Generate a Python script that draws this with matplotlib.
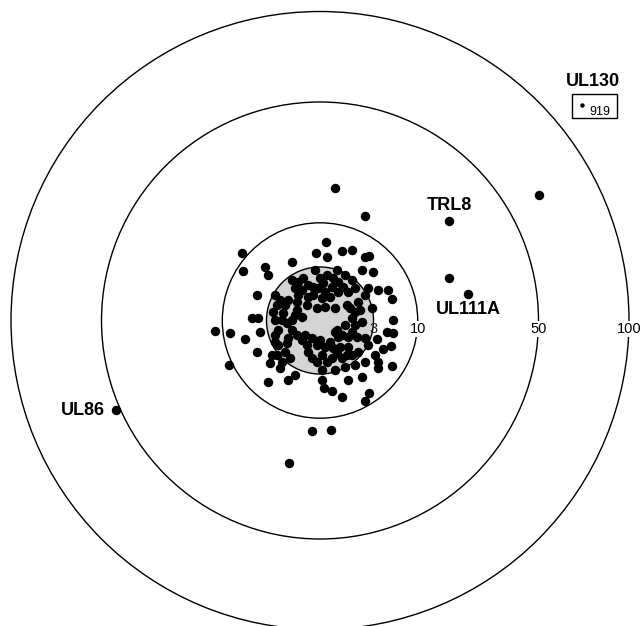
import matplotlib
matplotlib.use("Agg")
import matplotlib.pyplot as plt
from matplotlib.patches import Circle, Rectangle
import numpy as np

plt.rcParams['font.family'] = ['Liberation Sans', 'DejaVu Sans']

# ring values (fold); radius on chart = sqrt(value)
ring_values = [3, 10, 50, 100]
ring_labels = ["3", "10", "50", "100"]

# unlabeled genes: positions in chart units (radius = sqrt(fold))
gene_x = [0.50, 1.47, 7.10, 4.18, -0.27, 0.36, -1.01,
          0.18, -0.13, 0.71, 1.04, 1.59, -2.54, -2.49, 2.20, 2.34, -2.21, -3.39, -2.91, -2.42,
          -2.96, 0.12, 0.39, 0.70, 1.57, 1.47, 2.03, 2.30, 2.33, 2.37, 2.36, 2.18, 1.84,
          -0.92, 0.22, 1.46, -1.78, -1.67, 1.35, 1.73, -2.05, 1.56, 1.89,
          -0.16, 0.54, 0.81, -0.70, -0.38, 0.00, 0.22, 0.38, 0.16, 0.59, 1.02, 1.13,
          -0.81, -0.59, -0.22, 0.05, 0.32, -1.46, -1.29, -1.02, -0.76, -0.43, -0.11, 0.16,
          0.49, 0.86, 1.24, 1.46, 1.67, -1.51, -1.24, -0.81, -1.08, -1.35, -1.46, -0.92,
          -0.76, -0.49, -0.27, 0.49, 0.59, 0.81, 1.02, 1.13, 1.02, 1.19, 1.46,
          -0.43, -0.11, 0.16, 0.43, 0.65, 0.92, -0.38, -0.27, 0.05, 0.38, 0.70, 1.02, 1.24, 1.56,
          -1.35, -1.08, -1.13, -1.24, -1.56, -1.62, -1.29, 0.05, 0.49, 0.81, 1.13, 1.46,
          -2.00, -1.94, -2.05, 1.78, 1.89, 1.89, -0.81, 0.05, 0.92, 1.35, -1.67, -1.02,
          -0.92, -0.54, -0.22, -0.05, 0.59, 0.76, 0.92, 0.43, 0.11, -0.70, -0.38,
          -1.40, -1.13, -1.46, -1.19, -0.76, -0.59, -0.92, 0.97, 1.29, 1.35, 0.92, 1.13,
          -0.59, 0.00, 0.32, 0.54, 0.22, 0.86, -0.11, -1.02, -1.46, -0.97, -1.40, 0.54, 0.70]
gene_y = [4.30, 3.37, 4.06, 1.37, -3.57, -3.54, -4.62,
          2.53, 2.20, 2.24, 2.29, 2.09, 2.20, 1.59, 0.99, 0.68, 0.07, -0.34, -0.39, -0.61,
          -1.45, -2.18, -2.28, -2.49, -2.34, -2.59, -0.92, -0.84, -1.46, 0.01, -0.41, -0.37, -0.61,
          1.90, 2.07, 2.07, 1.74, 1.47, 1.63, 1.58, 0.83, 1.04, 0.99,
          1.63, 1.63, 1.47, 1.26, 1.15, 1.36, 1.47, 1.09, 0.93, 0.93, 1.31, 1.04,
          1.04, 0.99, 0.83, 0.72, 0.77, 0.83, 0.66, 0.66, 0.61, 0.50, 0.39, 0.45,
          0.39, 0.50, 0.61, 0.83, 0.39, 0.29, 0.02, 0.18, -0.09, -0.31, -0.47, -0.31,
          -0.47, -0.47, -0.58, -0.36, -0.52, -0.15, 0.07, 0.29, -0.36, -0.52, -0.58,
          -0.79, -0.79, -0.85, -0.90, -0.85, -0.85, -1.01, -1.22, -1.12, -1.22, -1.22, -1.12, -1.01, -0.79,
          -0.79, -0.74, -1.01, -1.33, -1.12, -1.39, -1.55, -1.60, -1.60, -1.49, -1.44, -1.33,
          0.07, -0.36, -1.01, -1.12, -1.33, -1.55, -1.76, -1.93, -1.93, -1.82, -1.98, -1.93,
          1.31, 1.36, 1.09, 1.04, 1.26, 1.09, 0.93, 1.36, 1.20, 0.83, 0.77,
          0.50, 0.50, 0.02, 0.23, 0.34, 0.12, 0.02, 0.39, 0.34, -0.04, -0.52, -0.15,
          -0.63, -0.63, -0.69, -1.06, -1.33, -1.12, -1.33, -0.58, -0.69, -1.22, -1.12, -0.31, -0.47]

# labeled genes
label_names = ["TRL8", "UL111A", "UL86"]
label_x = [4.18, 4.80, -6.60]
label_y = [3.22, 0.85, -2.90]

# off-scale gene shown in inset box
inset_name = "UL130"
inset_value = "919"

K = 30.9               # pixels per chart unit
CX, CY = 320.0, 320.5  # centre in pixels
W, H = 644, 626

fig = plt.figure(figsize=(W / 100, H / 100), dpi=100)
ax = fig.add_axes([0, 0, 1, 1])
ax.set_xlim(-CX / K, (W - CX) / K)
ax.set_ylim(-(H - CY) / K, CY / K)
ax.set_aspect('equal')
ax.axis('off')

for v in ring_values:
    r = np.sqrt(v)
    if v == 3:
        ax.add_patch(Circle((0, 0), r, facecolor='#d4d4d4', edgecolor='black', lw=1.0, zorder=1))
    else:
        ax.add_patch(Circle((0, 0), r, facecolor='none', edgecolor='black', lw=1.0, zorder=1))

ax.plot(gene_x, gene_y, 'o', color='black', markersize=6.8, markeredgewidth=0, zorder=3)
ax.plot(label_x, label_y, 'o', color='black', markersize=6.8, markeredgewidth=0, zorder=3)

# ring labels
for v, t in zip(ring_values, ring_labels):
    r = np.sqrt(v)
    if v == 3:
        ax.text(r, -0.28, t, ha='center', va='center', fontsize=10.5, color='#222222', zorder=4)
    else:
        ax.text(r, -0.28, t, ha='center', va='center', fontsize=10.5, color='black', zorder=4,
                bbox=dict(boxstyle='square,pad=0.05', fc='white', ec='none'))

# gene labels
ax.text(label_x[0], label_y[0] + 0.5, label_names[0], ha='center', va='center',
        fontsize=13, fontweight='bold')
ax.text(label_x[1], label_y[1] - 0.5, label_names[1], ha='center', va='center',
        fontsize=13, fontweight='bold')
ax.text(label_x[2] - 0.35, label_y[2], label_names[2], ha='right', va='center',
        fontsize=13, fontweight='bold')

# inset box for UL130
def px2d(px, py):
    return (px - CX) / K, (CY - py) / K

bx0, by0 = px2d(572, 118)
bx1, by1 = px2d(617, 94)
ax.add_patch(Rectangle((bx0, by0), bx1 - bx0, by1 - by0, fill=False, ec='black', lw=1.0))
tx, ty = px2d(593, 82)
ax.text(tx, ty, inset_name, ha='center', va='center', fontsize=13, fontweight='bold')
dx, dy = px2d(582, 104.5)
ax.plot([dx], [dy], 'o', color='black', markersize=3.2, markeredgewidth=0)
nx, ny = px2d(600, 112)
ax.text(nx, ny, inset_value, ha='center', va='center', fontsize=9)

fig.savefig("out.png", dpi=100)
